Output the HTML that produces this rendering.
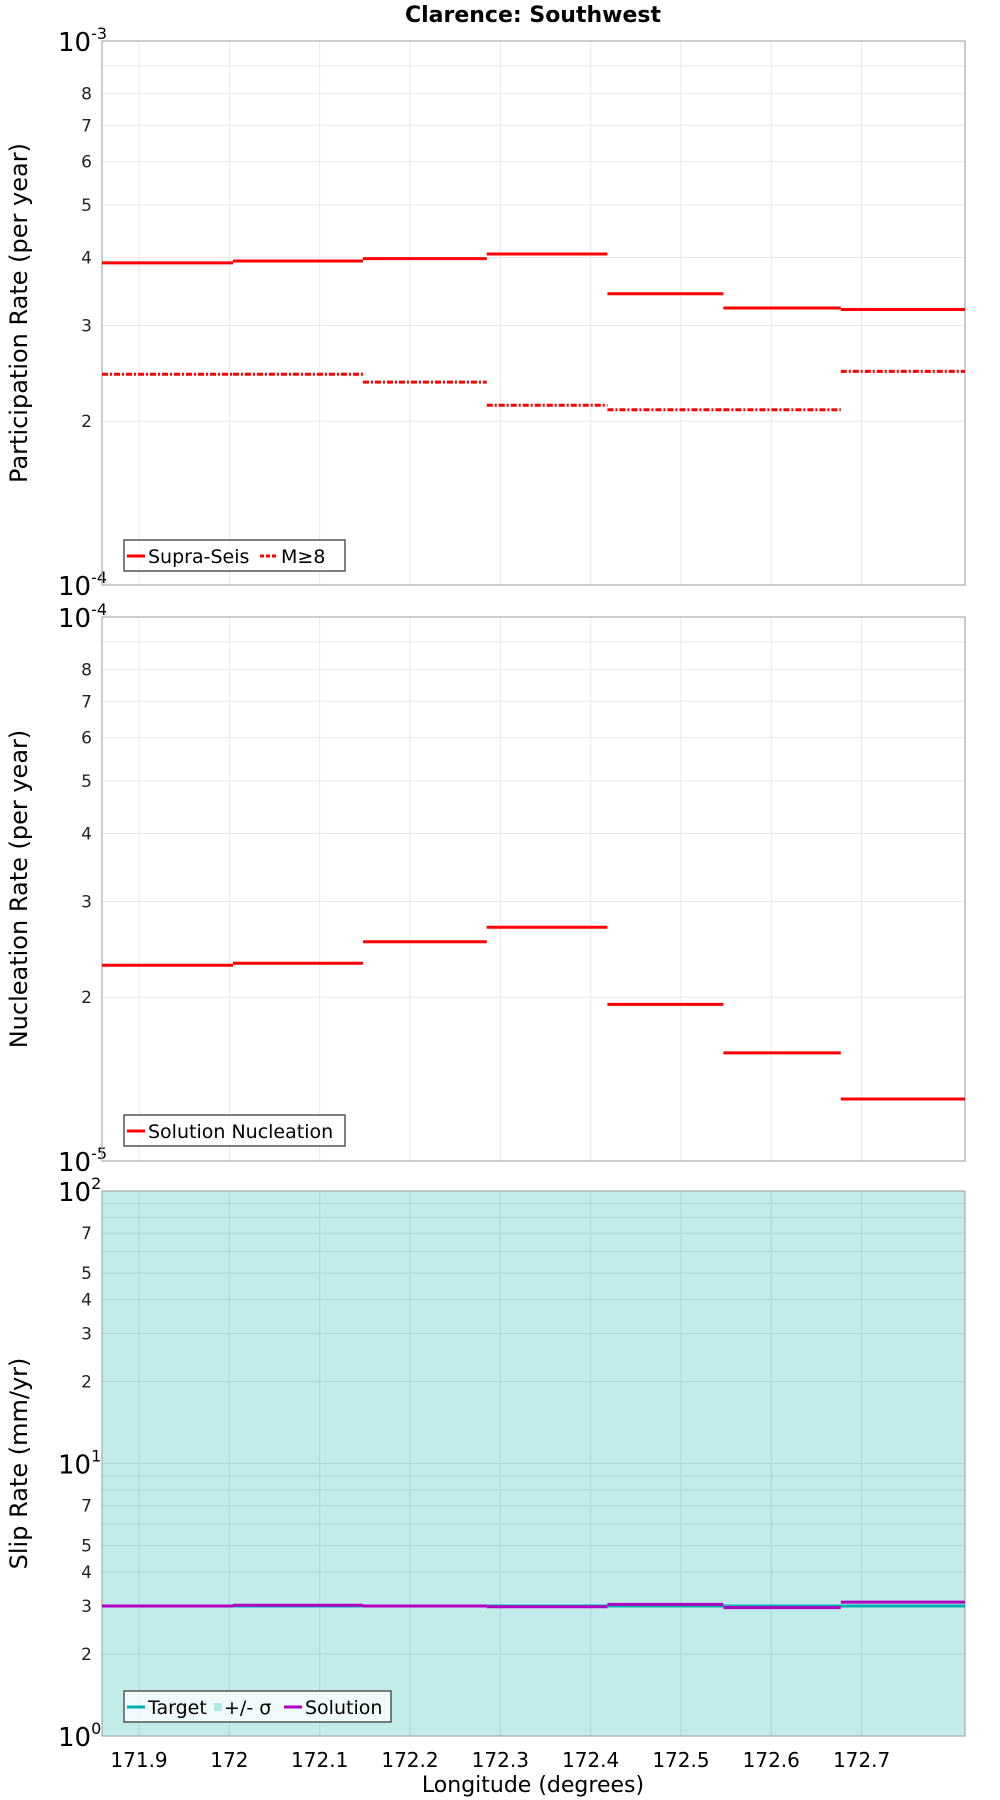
<!DOCTYPE html>
<html><head><meta charset="utf-8"><style>
html,body{margin:0;padding:0;background:#fff}
svg{display:block;font-family:"DejaVu Sans","Liberation Sans",sans-serif}
</style></head><body>
<svg id="chart" width="1000" height="1800" xmlns="http://www.w3.org/2000/svg"></svg>
<script>
const binEdges = [171.859, 172.004, 172.148, 172.285, 172.4186, 172.547, 172.677, 172.8145];
const xTicks = [171.9, 172, 172.1, 172.2, 172.3, 172.4, 172.5, 172.6, 172.7];
const xTickLabels = ["171.9","172","172.1","172.2","172.3","172.4","172.5","172.6","172.7"];
const supraSeis = [3.91e-4, 3.94e-4, 3.98e-4, 4.06e-4, 3.43e-4, 3.23e-4, 3.21e-4];
const mGe8 = [2.44e-4, 2.44e-4, 2.36e-4, 2.14e-4, 2.10e-4, 2.10e-4, 2.47e-4];
const nucleation = [2.29e-5, 2.31e-5, 2.53e-5, 2.69e-5, 1.94e-5, 1.58e-5, 1.30e-5];
const slipTarget = [3.0, 3.0, 3.0, 3.0, 3.0, 3.0, 3.0];
const slipSolution = [3.0, 3.02, 3.0, 2.98, 3.04, 2.96, 3.1];
const minorLabels1 = [2,3,4,5,6,7,8];
const minorLabels3 = [2,3,4,5,7];

const NS="http://www.w3.org/2000/svg";
const svg=document.getElementById('chart');
const L=102,R=965;
const xmin=binEdges[0], xmax=binEdges[binEdges.length-1];
function xs(v){return L+(v-xmin)/(xmax-xmin)*(R-L);}
function mk(tag,attrs,parent){const e=document.createElementNS(NS,tag);for(const k in attrs)e.setAttribute(k,attrs[k]);(parent||svg).appendChild(e);return e;}

const title=mk('text',{x:533,y:22,'text-anchor':'middle','font-size':22,'font-weight':'bold'});


title.textContent='Clarence: Southwest';

function panel(name,top,bot,lo,hi,minorLab,ytitle,bg){
  const g=mk('g',{});
  
  
  const ys=v=>bot-(Math.log10(v)-lo)/(hi-lo)*(bot-top);
  if(bg){const r=mk('rect',{x:L,y:top,width:R-L,height:bot-top,fill:'#c2ecea'},g);
    }
  const gc=bg?'#abd6d4':'#e8e8e8';
  for(const t of xTicks){mk('line',{x1:xs(t),x2:xs(t),y1:top,y2:bot,stroke:gc,'stroke-width':1},g);}
  for(let d=lo;d<hi;d++){for(let m=1;m<=9;m++){const v=m*Math.pow(10,d);const y=ys(v);
    if(m>1)mk('line',{x1:L,x2:R,y1:y,y2:y,stroke:gc,'stroke-width':1},g);
    if(m>1&&minorLab.includes(m)){const t=mk('text',{x:L-10,y:y+6,'text-anchor':'end','font-size':17,fill:'#222'},g);t.textContent=m;}
  }}
  for(let d=lo;d<=hi;d++){const y=ys(Math.pow(10,d));
    if(d>lo&&d<hi)mk('line',{x1:L,x2:R,y1:y,y2:y,stroke:gc,'stroke-width':1},g);
    const t=mk('text',{x:L-44,y:y+10,'font-size':26},g);
    
    t.textContent='10';const s=mk('tspan',{dy:-12,'font-size':16},t);s.textContent=String(d);}
  mk('rect',{x:L,y:top,width:R-L,height:bot-top,fill:'none',stroke:'#aaa','stroke-width':1.2},g);
  const yt=mk('text',{x:27,y:(top+bot)/2,'text-anchor':'middle','font-size':24,transform:`rotate(-90 27 ${(top+bot)/2})`},g);
  
  yt.textContent=ytitle;
  return {g,ys};
}
function steps(p,arr,color,w,dash,name){
  arr.forEach((v,i)=>{const y=p.ys(v);
    const a={x1:xs(binEdges[i]),x2:xs(binEdges[i+1]),y1:y,y2:y,stroke:color,'stroke-width':w};
    if(dash)a['stroke-dasharray']=dash;
    const l=mk('line',a,p.g);
    
    });
}
function legend(p,x,y,w,items){
  const g=mk('g',{},p.g);
  
  mk('rect',{x:x,y:y,width:w,height:31,fill:'rgba(255,255,255,0.75)',stroke:'#555','stroke-width':1.5},g);
  let cx=x+3;
  for(const it of items){
    if(it.box){mk('rect',{x:cx,y:y+12,width:8,height:8,fill:it.color},g);cx+=10;}
    else{const a={x1:cx,x2:cx+18,y1:y+16,y2:y+16,stroke:it.color,'stroke-width':3};if(it.dash)a['stroke-dasharray']=it.dash;mk('line',a,g);cx+=21;}
    const t=mk('text',{x:cx,y:y+23,'font-size':19},g);t.textContent=it.label;
    
    cx+=it.tw;}
}

const p1=panel('participation-panel',41,585,-4,-3,minorLabels1,'Participation Rate (per year)',false);
steps(p1,mGe8,'#ff0000',3,'6,2,2,2','m8-step');
steps(p1,supraSeis,'#ff0000',3,null,'supra-seis-step');
legend(p1,124,540,221,[{color:'#f00',label:'Supra-Seis',tw:112},{color:'#f00',dash:'4,2',label:'M≥8',tw:50}]);

const p2=panel('nucleation-panel',617,1161,-5,-4,minorLabels1,'Nucleation Rate (per year)',false);
steps(p2,nucleation,'#ff0000',3,null,'nucleation-step');
legend(p2,124,1115,221,[{color:'#f00',label:'Solution Nucleation',tw:190}]);

const p3=panel('slip-rate-panel',1191,1736,0,2,minorLabels3,'Slip Rate (mm/yr)',true);
steps(p3,slipTarget,'#00b0b0',3,null,'target-step');
steps(p3,slipSolution,'#b000c0',3,null,'solution-step');
legend(p3,124,1691,267,[{color:'#00b0b0',label:'Target',tw:66},{color:'#b0e8e8',box:true,label:'+/- σ',tw:60},{color:'#b000c0',label:'Solution',tw:80}]);

xTicks.forEach((t,i)=>{const e=mk('text',{x:xs(t),y:1767,'text-anchor':'middle','font-size':20});
  
  e.textContent=xTickLabels[i];});
const xt=mk('text',{x:533,y:1792,'text-anchor':'middle','font-size':22});


xt.textContent='Longitude (degrees)';
</script>
</body></html>
